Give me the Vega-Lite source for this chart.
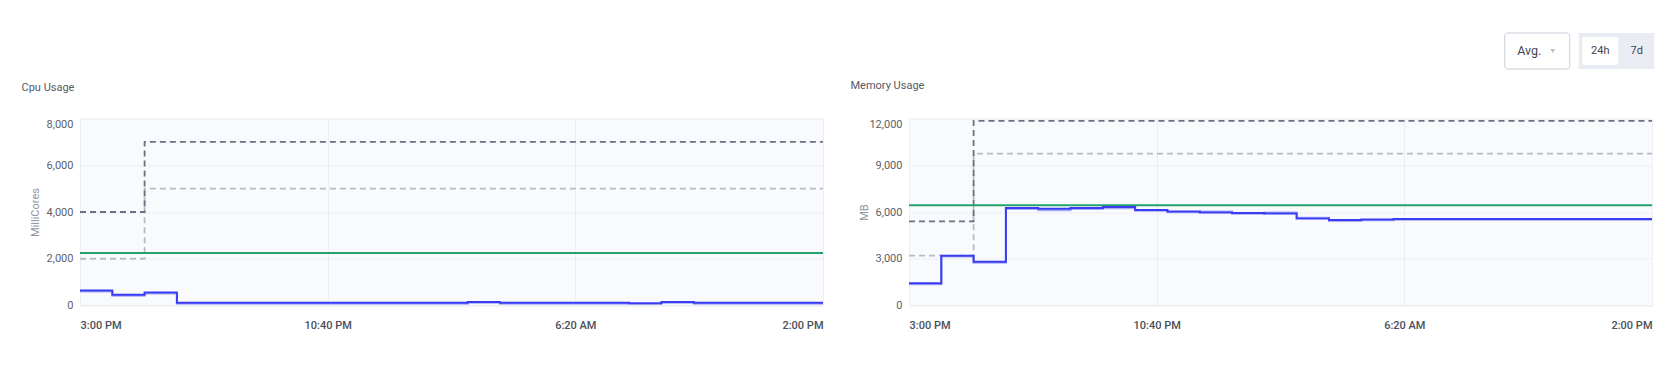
{
  "$schema": "https://vega.github.io/schema/vega-lite/v6.json",
  "background": "white",
  "padding": {"left": 21, "top": 32, "right": 0, "bottom": 0},
  "spacing": 9.5,
  "datasets": {
    "controls": [{"label": "Avg."}, {"label": "24h"}, {"label": "7d"}],
    "cpu": [
      {"t": "2024-01-01T15:00", "s": "rq", "v": 2000},
      {"t": "2024-01-01T17:00", "s": "rq", "v": 5000},
      {"t": "2024-01-02T14:00", "s": "rq", "v": 5000},
      {"t": "2024-01-01T15:00", "s": "lm", "v": 4000},
      {"t": "2024-01-01T17:00", "s": "lm", "v": 7000},
      {"t": "2024-01-02T14:00", "s": "lm", "v": 7000},
      {"t": "2024-01-01T15:00", "s": "cap", "v": 2250},
      {"t": "2024-01-02T14:00", "s": "cap", "v": 2250},
      {"t": "2024-01-01T15:00", "s": "u2", "v": 600},
      {"t": "2024-01-01T16:00", "s": "u2", "v": 420},
      {"t": "2024-01-01T17:00", "s": "u2", "v": 515},
      {"t": "2024-01-01T18:00", "s": "u2", "v": 80},
      {"t": "2024-01-01T19:00", "s": "u2", "v": 80},
      {"t": "2024-01-01T20:00", "s": "u2", "v": 80},
      {"t": "2024-01-01T21:00", "s": "u2", "v": 80},
      {"t": "2024-01-01T22:00", "s": "u2", "v": 80},
      {"t": "2024-01-01T23:00", "s": "u2", "v": 80},
      {"t": "2024-01-02T00:00", "s": "u2", "v": 80},
      {"t": "2024-01-02T01:00", "s": "u2", "v": 80},
      {"t": "2024-01-02T02:00", "s": "u2", "v": 80},
      {"t": "2024-01-02T03:00", "s": "u2", "v": 120},
      {"t": "2024-01-02T04:00", "s": "u2", "v": 80},
      {"t": "2024-01-02T05:00", "s": "u2", "v": 80},
      {"t": "2024-01-02T06:00", "s": "u2", "v": 80},
      {"t": "2024-01-02T07:00", "s": "u2", "v": 80},
      {"t": "2024-01-02T08:00", "s": "u2", "v": 70},
      {"t": "2024-01-02T09:00", "s": "u2", "v": 120},
      {"t": "2024-01-02T10:00", "s": "u2", "v": 80},
      {"t": "2024-01-02T11:00", "s": "u2", "v": 80},
      {"t": "2024-01-02T12:00", "s": "u2", "v": 80},
      {"t": "2024-01-02T13:00", "s": "u2", "v": 80},
      {"t": "2024-01-02T14:00", "s": "u2", "v": 80},
      {"t": "2024-01-01T15:00", "s": "u", "v": 640},
      {"t": "2024-01-01T16:00", "s": "u", "v": 460},
      {"t": "2024-01-01T17:00", "s": "u", "v": 555},
      {"t": "2024-01-01T18:00", "s": "u", "v": 120},
      {"t": "2024-01-01T19:00", "s": "u", "v": 120},
      {"t": "2024-01-01T20:00", "s": "u", "v": 120},
      {"t": "2024-01-01T21:00", "s": "u", "v": 120},
      {"t": "2024-01-01T22:00", "s": "u", "v": 120},
      {"t": "2024-01-01T23:00", "s": "u", "v": 120},
      {"t": "2024-01-02T00:00", "s": "u", "v": 120},
      {"t": "2024-01-02T01:00", "s": "u", "v": 120},
      {"t": "2024-01-02T02:00", "s": "u", "v": 120},
      {"t": "2024-01-02T03:00", "s": "u", "v": 155},
      {"t": "2024-01-02T04:00", "s": "u", "v": 120},
      {"t": "2024-01-02T05:00", "s": "u", "v": 120},
      {"t": "2024-01-02T06:00", "s": "u", "v": 120},
      {"t": "2024-01-02T07:00", "s": "u", "v": 120},
      {"t": "2024-01-02T08:00", "s": "u", "v": 100},
      {"t": "2024-01-02T09:00", "s": "u", "v": 155},
      {"t": "2024-01-02T10:00", "s": "u", "v": 120},
      {"t": "2024-01-02T11:00", "s": "u", "v": 120},
      {"t": "2024-01-02T12:00", "s": "u", "v": 120},
      {"t": "2024-01-02T13:00", "s": "u", "v": 120},
      {"t": "2024-01-02T14:00", "s": "u", "v": 120}
    ],
    "mem": [
      {"t": "2024-01-01T15:00", "s": "rq", "v": 3200},
      {"t": "2024-01-01T17:00", "s": "rq", "v": 9750},
      {"t": "2024-01-02T14:00", "s": "rq", "v": 9750},
      {"t": "2024-01-01T15:00", "s": "lm", "v": 5400},
      {"t": "2024-01-01T17:00", "s": "lm", "v": 11850},
      {"t": "2024-01-02T14:00", "s": "lm", "v": 11850},
      {"t": "2024-01-01T15:00", "s": "cap", "v": 6430},
      {"t": "2024-01-02T14:00", "s": "cap", "v": 6430},
      {"t": "2024-01-01T15:00", "s": "u2", "v": 1370},
      {"t": "2024-01-01T16:00", "s": "u2", "v": 3140},
      {"t": "2024-01-01T17:00", "s": "u2", "v": 2740},
      {"t": "2024-01-01T18:00", "s": "u2", "v": 6190},
      {"t": "2024-01-01T19:00", "s": "u2", "v": 6120},
      {"t": "2024-01-01T20:00", "s": "u2", "v": 6200},
      {"t": "2024-01-01T21:00", "s": "u2", "v": 6240},
      {"t": "2024-01-01T22:00", "s": "u2", "v": 6080},
      {"t": "2024-01-01T23:00", "s": "u2", "v": 5990},
      {"t": "2024-01-02T00:00", "s": "u2", "v": 6040},
      {"t": "2024-01-02T01:00", "s": "u2", "v": 5880},
      {"t": "2024-01-02T02:00", "s": "u2", "v": 5970},
      {"t": "2024-01-02T03:00", "s": "u2", "v": 5630},
      {"t": "2024-01-02T04:00", "s": "u2", "v": 5420},
      {"t": "2024-01-02T05:00", "s": "u2", "v": 5470},
      {"t": "2024-01-02T06:00", "s": "u2", "v": 5500},
      {"t": "2024-01-02T07:00", "s": "u2", "v": 5500},
      {"t": "2024-01-02T08:00", "s": "u2", "v": 5500},
      {"t": "2024-01-02T09:00", "s": "u2", "v": 5500},
      {"t": "2024-01-02T10:00", "s": "u2", "v": 5500},
      {"t": "2024-01-02T11:00", "s": "u2", "v": 5500},
      {"t": "2024-01-02T12:00", "s": "u2", "v": 5500},
      {"t": "2024-01-02T13:00", "s": "u2", "v": 5500},
      {"t": "2024-01-02T14:00", "s": "u2", "v": 5500},
      {"t": "2024-01-01T15:00", "s": "u", "v": 1430},
      {"t": "2024-01-01T16:00", "s": "u", "v": 3190},
      {"t": "2024-01-01T17:00", "s": "u", "v": 2800},
      {"t": "2024-01-01T18:00", "s": "u", "v": 6250},
      {"t": "2024-01-01T19:00", "s": "u", "v": 6210},
      {"t": "2024-01-01T20:00", "s": "u", "v": 6255},
      {"t": "2024-01-01T21:00", "s": "u", "v": 6320},
      {"t": "2024-01-01T22:00", "s": "u", "v": 6125},
      {"t": "2024-01-01T23:00", "s": "u", "v": 6040},
      {"t": "2024-01-02T00:00", "s": "u", "v": 5975},
      {"t": "2024-01-02T01:00", "s": "u", "v": 5935},
      {"t": "2024-01-02T02:00", "s": "u", "v": 5910},
      {"t": "2024-01-02T03:00", "s": "u", "v": 5590},
      {"t": "2024-01-02T04:00", "s": "u", "v": 5485},
      {"t": "2024-01-02T05:00", "s": "u", "v": 5525},
      {"t": "2024-01-02T06:00", "s": "u", "v": 5550},
      {"t": "2024-01-02T07:00", "s": "u", "v": 5550},
      {"t": "2024-01-02T08:00", "s": "u", "v": 5550},
      {"t": "2024-01-02T09:00", "s": "u", "v": 5550},
      {"t": "2024-01-02T10:00", "s": "u", "v": 5550},
      {"t": "2024-01-02T11:00", "s": "u", "v": 5550},
      {"t": "2024-01-02T12:00", "s": "u", "v": 5550},
      {"t": "2024-01-02T13:00", "s": "u", "v": 5550},
      {"t": "2024-01-02T14:00", "s": "u", "v": 5550}
    ]
  },
  "vconcat": [
    {
      "spacing": 0,
      "hconcat": [
        {
          "width": 1424,
          "height": 36,
          "view": {"stroke": null, "fill": "white"},
          "data": {"values": []},
          "mark": {"type": "rect"}
        },
        {
          "width": 150,
          "height": 36,
          "view": {"stroke": null, "fill": "white"},
          "data": {"name": "controls"},
          "encoding": {
            "x": {"field": "label", "type": "nominal", "axis": null,
                  "scale": {"type": "band", "domain": ["Avg.", "24h", "7d"], "paddingInner": 0, "paddingOuter": 0.555, "align": 1}}
          },
          "layer": [
            {
              "transform": [{"filter": "datum.label != 'Avg.'"}],
              "mark": {"type": "rect", "color": "#e9ecf3", "width": 39, "xOffset": -2}
            },
            {
              "transform": [{"filter": "datum.label == 'Avg.'"}],
              "mark": {"type": "rect", "fill": "white", "stroke": "#c9cdd7", "strokeWidth": 1, "cornerRadius": 3, "width": 65, "xOffset": -26.5}
            },
            {
              "transform": [{"filter": "datum.label == '24h'"}],
              "mark": {"type": "rect", "fill": "white", "cornerRadius": 3, "width": 37, "stroke": "#e1e4ec", "strokeWidth": 0.5},
              "encoding": {
                "y": {"datum": "btn", "type": "nominal", "axis": null,
                      "scale": {"type": "band", "domain": ["btn"], "paddingInner": 0, "paddingOuter": 0.12}}
              }
            },
            {
              "transform": [{"filter": "datum.label == 'Avg.'"}],
              "mark": {"type": "point", "shape": "triangle-down", "filled": true, "color": "#b9bdc8", "size": 22, "xOffset": -11, "opacity": 1}
            },
            {
              "transform": [{"filter": "datum.label == 'Avg.'"}],
              "mark": {"type": "text", "align": "left", "dx": -46.5, "fontSize": 12.5, "color": "#3f4450", "font": "Roboto"},
              "encoding": {"text": {"field": "label"}}
            },
            {
              "transform": [{"filter": "datum.label != 'Avg.'"}],
              "mark": {"type": "text", "align": "center", "fontSize": 11, "color": "#3f4450", "font": "Roboto"},
              "encoding": {"text": {"field": "label"}}
            }
          ]
        }
      ]
    },
    {
      "spacing": 22,
      "hconcat": [
        {
          "width": 743,
          "height": 187,
          "title": {"text": "Cpu Usage", "anchor": "start", "frame": "bounds", "offset": 26, "dx": -7.5, "fontSize": 11, "fontWeight": "normal", "color": "#555b67", "font": "Roboto"},
          "data": {"name": "cpu"},
          "encoding": {
            "x": {"field": "t", "type": "temporal",
                  "scale": {"domain": [{"year": 2024, "month": 1, "date": 1, "hours": 15}, {"year": 2024, "month": 1, "date": 2, "hours": 14}], "nice": false},
                  "axis": {"title": null, "format": "%-I:%M %p", "labelFlush": true, "labelPadding": 13.5, "labelFontWeight": 500, "labelColor": "#4a4f5a",
                           "values": [{"year": 2024, "month": 1, "date": 1, "hours": 15}, {"year": 2024, "month": 1, "date": 1, "hours": 22, "minutes": 40}, {"year": 2024, "month": 1, "date": 2, "hours": 6, "minutes": 20}, {"year": 2024, "month": 1, "date": 2, "hours": 14}]}},
            "y": {"field": "v", "type": "quantitative",
                  "scale": {"domain": [0, 8000], "nice": false},
                  "axis": {"title": "MilliCores", "values": [0, 2000, 4000, 6000, 8000], "format": ",.0f", "labelPadding": 7,
                           "labelBaseline": {"condition": {"test": "datum.value == 8000", "value": "top"}, "value": "middle"},
                           "titleX": -45, "titleBaseline": "middle", "titleFontWeight": "normal", "titleFontSize": 11, "titleColor": "#8f94a0"}}
          },
          "layer": [
            {"transform": [{"filter": "datum.s == 'rq'"}], "mark": {"type": "line", "interpolate": "step-after", "color": "#b8bac4", "strokeDash": [6, 4], "strokeWidth": 1.8}},
            {"transform": [{"filter": "datum.s == 'lm'"}], "mark": {"type": "line", "interpolate": "step-after", "color": "#6d7080", "strokeDash": [6, 4], "strokeWidth": 1.8}},
            {"transform": [{"filter": "datum.s == 'cap'"}], "mark": {"type": "line", "interpolate": "step-after", "color": "#23a26c", "strokeWidth": 2}},
            {"transform": [{"filter": "datum.s == 'u2'"}], "mark": {"type": "line", "interpolate": "step-after", "color": "#a9acf6", "strokeWidth": 2}},
            {"transform": [{"filter": "datum.s == 'u'"}], "mark": {"type": "line", "interpolate": "step-after", "color": "#3a3cf3", "strokeWidth": 2}}
          ]
        },
        {
          "width": 743,
          "height": 187,
          "title": {"text": "Memory Usage", "anchor": "start", "frame": "bounds", "offset": 26, "dx": -7.5, "fontSize": 11, "fontWeight": "normal", "color": "#555b67", "font": "Roboto"},
          "data": {"name": "mem"},
          "encoding": {
            "x": {"field": "t", "type": "temporal",
                  "scale": {"domain": [{"year": 2024, "month": 1, "date": 1, "hours": 15}, {"year": 2024, "month": 1, "date": 2, "hours": 14}], "nice": false},
                  "axis": {"title": null, "format": "%-I:%M %p", "labelFlush": true, "labelPadding": 13.5, "labelFontWeight": 500, "labelColor": "#4a4f5a",
                           "values": [{"year": 2024, "month": 1, "date": 1, "hours": 15}, {"year": 2024, "month": 1, "date": 1, "hours": 22, "minutes": 40}, {"year": 2024, "month": 1, "date": 2, "hours": 6, "minutes": 20}, {"year": 2024, "month": 1, "date": 2, "hours": 14}]}},
            "y": {"field": "v", "type": "quantitative",
                  "scale": {"domain": [0, 12000], "nice": false},
                  "axis": {"title": "MB", "values": [0, 3000, 6000, 9000, 12000], "format": ",.0f", "labelPadding": 7,
                           "labelBaseline": {"condition": {"test": "datum.value == 12000", "value": "top"}, "value": "middle"},
                           "titleX": -45, "titleBaseline": "middle", "titleFontWeight": "normal", "titleFontSize": 11, "titleColor": "#8f94a0"}}
          },
          "layer": [
            {"transform": [{"filter": "datum.s == 'rq'"}], "mark": {"type": "line", "interpolate": "step-after", "color": "#b8bac4", "strokeDash": [6, 4], "strokeWidth": 1.8}},
            {"transform": [{"filter": "datum.s == 'lm'"}], "mark": {"type": "line", "interpolate": "step-after", "color": "#6d7080", "strokeDash": [6, 4], "strokeWidth": 1.8}},
            {"transform": [{"filter": "datum.s == 'cap'"}], "mark": {"type": "line", "interpolate": "step-after", "color": "#23a26c", "strokeWidth": 2}},
            {"transform": [{"filter": "datum.s == 'u2'"}], "mark": {"type": "line", "interpolate": "step-after", "color": "#a9acf6", "strokeWidth": 2}},
            {"transform": [{"filter": "datum.s == 'u'"}], "mark": {"type": "line", "interpolate": "step-after", "color": "#3a3cf3", "strokeWidth": 2}}
          ]
        }
      ]
    }
  ],
  "config": {
    "font": "Roboto",
    "view": {"fill": "#f9fafd", "stroke": "#eceef3"},
    "axis": {"domain": false, "ticks": false, "tickSize": 0, "gridColor": "#eceef3", "gridWidth": 1,
             "labelColor": "#5c616b", "labelFontSize": 11, "labelFont": "Roboto", "titleFont": "Roboto"}
  }
}
